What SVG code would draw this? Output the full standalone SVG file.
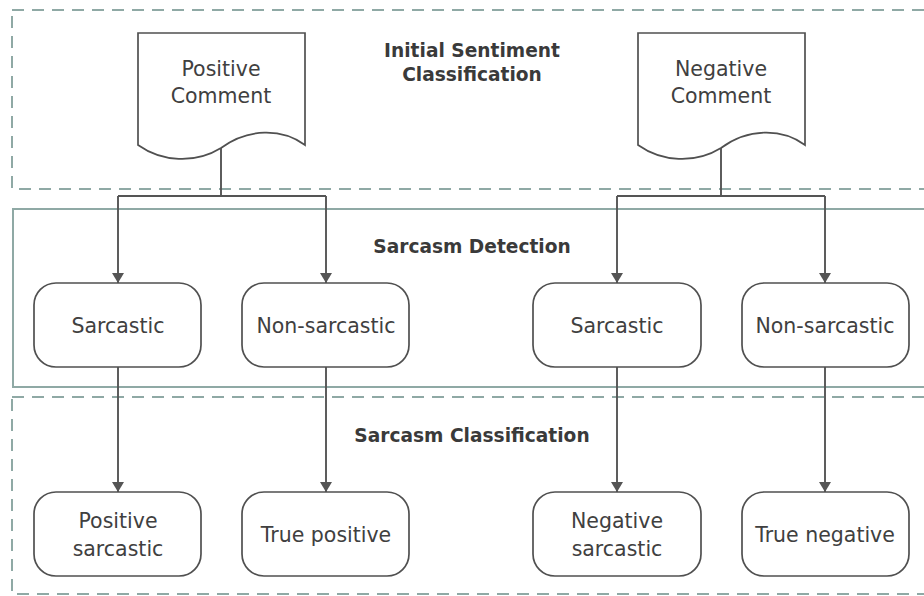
<svg xmlns="http://www.w3.org/2000/svg" width="924" height="596" viewBox="0 0 924 596">
<style>
.bg{fill:#ffffff}
.lane{fill:none;stroke:#8fa9a5;stroke-width:2}
.dash{stroke-dasharray:12 8}
.node{fill:#ffffff;stroke:#505050;stroke-width:1.7}
.t{font-family:"DejaVu Sans",Verdana,sans-serif;font-size:20.5px;fill:#404040;text-anchor:middle}
.h{font-family:"DejaVu Sans",Verdana,sans-serif;font-size:18.6px;font-weight:bold;fill:#3a3a3a;text-anchor:middle}
.c{fill:none;stroke:#555;stroke-width:1.9}
</style>
<defs>
<marker id="ah" viewBox="0 0 10 12" refX="10" refY="6" markerWidth="10" markerHeight="12" markerUnits="userSpaceOnUse" orient="auto">
<path d="M0,0 L10,6 L0,12 Z" fill="#555"/>
</marker>
</defs>
<rect class="bg" x="0" y="0" width="924" height="596"/>
<g id="lanes">
<rect class="lane dash" x="12" y="10" width="930" height="179"/>
<rect class="lane" x="13" y="209" width="930" height="178"/>
<rect class="lane dash" x="12" y="397" width="930" height="197"/>
<text class="h" x="472" y="57">Initial Sentiment</text>
<text class="h" x="472" y="81">Classification</text>
<text class="h" x="472" y="253">Sarcasm Detection</text>
<text class="h" x="472" y="442">Sarcasm Classification</text>
</g>
<g id="connectors">
<path class="c" d="M221,148 V196 M118,196 H326"/>
<path class="c" d="M118,196 V283" marker-end="url(#ah)"/>
<path class="c" d="M326,196 V283" marker-end="url(#ah)"/>
<path class="c" d="M721,148 V196 M617,196 H825"/>
<path class="c" d="M617,196 V283" marker-end="url(#ah)"/>
<path class="c" d="M825,196 V283" marker-end="url(#ah)"/>
<path class="c" d="M118,367 V492" marker-end="url(#ah)"/>
<path class="c" d="M326,367 V492" marker-end="url(#ah)"/>
<path class="c" d="M617,367 V492" marker-end="url(#ah)"/>
<path class="c" d="M825,367 V492" marker-end="url(#ah)"/>
</g>
<g id="positive-comment">
<path class="node" d="M138,33 H305 V145 C282,128 248,128 221,148 C195,164 162,162 138,145 Z"/>
<text class="t" x="221" y="76">Positive</text>
<text class="t" x="221" y="103">Comment</text>
</g>
<g id="negative-comment">
<path class="node" d="M638,33 H805 V145 C782,128 748,128 721,148 C695,164 662,162 638,145 Z"/>
<text class="t" x="721" y="76">Negative</text>
<text class="t" x="721" y="103">Comment</text>
</g>
<g id="pos-sarcastic">
<rect class="node" x="34" y="283" width="167" height="84" rx="22"/>
<text class="t" x="118" y="333">Sarcastic</text>
</g>
<g id="pos-non-sarcastic">
<rect class="node" x="242" y="283" width="167" height="84" rx="22"/>
<text class="t" x="326" y="333">Non-sarcastic</text>
</g>
<g id="neg-sarcastic">
<rect class="node" x="533" y="283" width="168" height="84" rx="22"/>
<text class="t" x="617" y="333">Sarcastic</text>
</g>
<g id="neg-non-sarcastic">
<rect class="node" x="742" y="283" width="167" height="84" rx="22"/>
<text class="t" x="825" y="333">Non-sarcastic</text>
</g>
<g id="positive-sarcastic">
<rect class="node" x="34" y="492" width="167" height="84" rx="22"/>
<text class="t" x="118" y="528">Positive</text>
<text class="t" x="118" y="556">sarcastic</text>
</g>
<g id="true-positive">
<rect class="node" x="242" y="492" width="167" height="84" rx="22"/>
<text class="t" x="326" y="542">True positive</text>
</g>
<g id="negative-sarcastic">
<rect class="node" x="533" y="492" width="168" height="84" rx="22"/>
<text class="t" x="617" y="528">Negative</text>
<text class="t" x="617" y="556">sarcastic</text>
</g>
<g id="true-negative">
<rect class="node" x="742" y="492" width="167" height="84" rx="22"/>
<text class="t" x="825" y="542">True negative</text>
</g>
</svg>
